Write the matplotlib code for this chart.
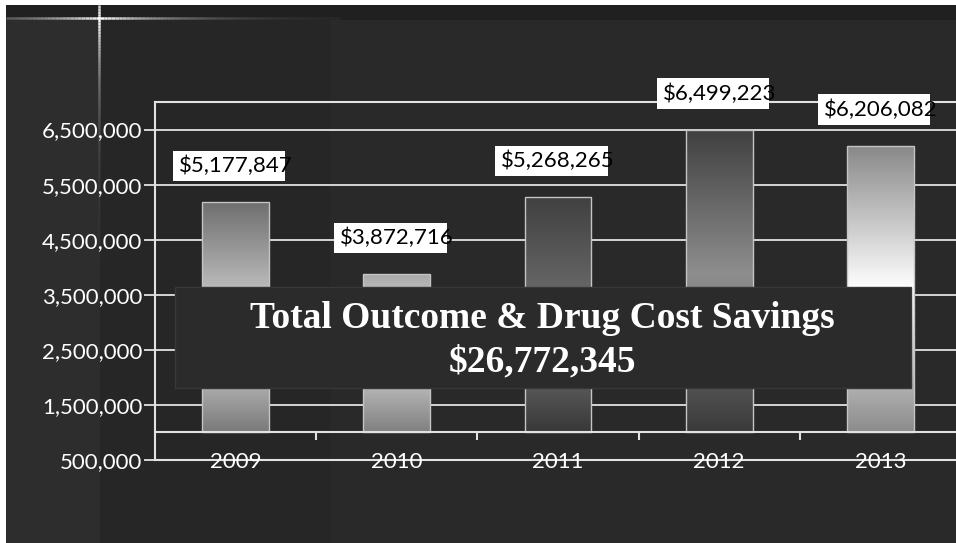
import matplotlib.pyplot as plt
import numpy as np
from matplotlib.colors import LinearSegmentedColormap
from matplotlib.patches import Rectangle
from matplotlib.collections import LineCollection

# data
years = ["2009", "2010", "2011", "2012", "2013"]
savings = [5177847, 3872716, 5268265, 6499223, 6206082]
value_labels = ["$5,177,847", "$3,872,716", "$5,268,265", "$6,499,223", "$6,206,082"]
y_ticks = [500000, 1500000, 2500000, 3500000, 4500000, 5500000, 6500000]
title_line1 = "Total Outcome & Drug Cost Savings"
title_line2 = "$26,772,345"
baseline = 1000000

# gradient stops for each bar (top -> bottom)
bar_shades = [
    [(0.0, "#7a7a7a"), (0.42, "#e4e4e4"), (1.0, "#6e6e6e")],
    [(0.0, "#808080"), (0.6, "#f2f2f2"), (1.0, "#a8a8a8")],
    [(0.0, "#383838"), (0.4, "#7a7a7a"), (1.0, "#404040")],
    [(0.0, "#3a3a3a"), (0.52, "#8e8e8e"), (1.0, "#404040")],
    [(0.0, "#8c8c8c"), (0.5, "#ffffff"), (1.0, "#888888")],
]

W, H = 956, 543
fig = plt.figure(figsize=(W / 100, H / 100), dpi=100, facecolor="#292929")

# background pieces (pixel coords -> figure fraction)
def px_rect(x0, y0, x1, y1, color, z=-10):
    r = Rectangle((x0 / W, 1 - y1 / H), (x1 - x0) / W, (y1 - y0) / H,
                  transform=fig.transFigure, facecolor=color, edgecolor="none", zorder=z)
    fig.add_artist(r)
    return r

px_rect(6, 20, 100, H, "#2d2d2d")
px_rect(100, 20, 330, H, "#262626")
px_rect(6, 5, W, 20, "#202020")
px_rect(0, 0, W, 5, "white", z=20)
px_rect(0, 0, 6, H, "white", z=20)

# glow cross in the top-left corner
xs = np.linspace(6, 340, 90)
segs = [[(a / W, 1 - 18 / H), (b / W, 1 - 18 / H)] for a, b in zip(xs[:-1], xs[1:])]
alph = np.exp(-np.abs(xs[:-1] - 99) / 70)
fig.add_artist(LineCollection(segs, colors=[(1, 1, 1, a) for a in alph], linewidths=1.8,
                              transform=fig.transFigure, zorder=-5))
ys = np.linspace(5, 260, 90)
segs = [[(99 / W, 1 - a / H), (99 / W, 1 - b / H)] for a, b in zip(ys[:-1], ys[1:])]
alph = np.exp(-np.abs(ys[:-1] - 18) / 55)
fig.add_artist(LineCollection(segs, colors=[(1, 1, 1, a) for a in alph], linewidths=1.8,
                              transform=fig.transFigure, zorder=-5))

ax = fig.add_axes([155 / W, 83 / H, 806 / W, 358 / H])
ax.set_facecolor("none")

grid_col = "#e2e2e2"
x = np.arange(len(years))
bar_w = 0.415

label_texts = []
for i, (v, stops) in enumerate(zip(savings, bar_shades)):
    bar = ax.bar(x[i], v - baseline, bottom=baseline, width=bar_w,
                 facecolor="none", edgecolor="#c4c4c4", linewidth=1.0, zorder=3)[0]
    cmap = LinearSegmentedColormap.from_list("b%d" % i, stops)
    grad = np.linspace(0, 1, 256).reshape(-1, 1)
    im = ax.imshow(grad, cmap=cmap, aspect="auto", zorder=2,
                   extent=[x[i] - bar_w / 2, x[i] + bar_w / 2, v, baseline])
    im.set_clip_path(bar)
    t = ax.annotate(value_labels[i], (x[i], v), xytext=(0, 26), textcoords="offset points",
                    ha="center", va="center", fontsize=16, family="Lato", color="black",
                    zorder=7, annotation_clip=False)
    label_texts.append(t)

# gridlines and axis lines
for t in y_ticks[1:]:
    ax.axhline(t, color=grid_col, linewidth=1.3, zorder=1)
ax.axhline(baseline, color=grid_col, linewidth=1.5, zorder=4)
tick_len = 8 / 55.1 * 1e6
ax.vlines(x[:-1] + 0.5, baseline - tick_len, baseline, color=grid_col, linewidth=1.5, zorder=4)

ax.set_xlim(-0.5, len(years) - 0.5)
ax.set_ylim(500000, 7000000)
ax.set_yticks(y_ticks)
ax.set_yticklabels([f"{t:,}" for t in y_ticks], family="Lato", fontsize=16, color="white")
ax.tick_params(axis="y", length=8, width=1.3, color=grid_col, pad=1)
ax.set_xticks([])
for s in ["left", "top", "bottom"]:
    ax.spines[s].set_color(grid_col)
    ax.spines[s].set_linewidth(1.5)
ax.spines["right"].set_visible(False)

for i, yr in enumerate(years):
    ax.text(x[i], 460000, yr, ha="center", va="center", fontsize=16, family="Lato",
            color="white", zorder=5, clip_on=False)

# white label boxes that stop partway into the last digit
renderer = fig.canvas.get_renderer()
inv = ax.transData.inverted()
for t in label_texts:
    bb = t.get_window_extent(renderer)
    last = fig.text(0, 0, t.get_text()[-1], fontsize=16, family="Lato")
    lw = last.get_window_extent(renderer).width
    last.remove()
    (dx0, dy0), (dx1, dy1) = inv.transform([(bb.x0 - 6, bb.y0 - 5), (bb.x1 - 0.55 * lw, bb.y1 + 5)])
    ax.add_patch(Rectangle((dx0, dy0), dx1 - dx0, dy1 - dy0, facecolor="white",
                           edgecolor="none", zorder=6, clip_on=False))

# overlay box with the total
px_rect(175, 287, 911, 388, "#2b2b2b", z=5).set_edgecolor("#383838")
fig.text(542 / W, 1 - 318 / H, title_line1, ha="center", va="center", fontsize=27,
         family="Liberation Serif", weight="bold", color="white", zorder=6)
fig.text(542 / W, 1 - 362 / H, title_line2, ha="center", va="center", fontsize=27,
         family="Liberation Serif", weight="bold", color="white", zorder=6)

fig.savefig("out.png", dpi=100, facecolor=fig.get_facecolor())
